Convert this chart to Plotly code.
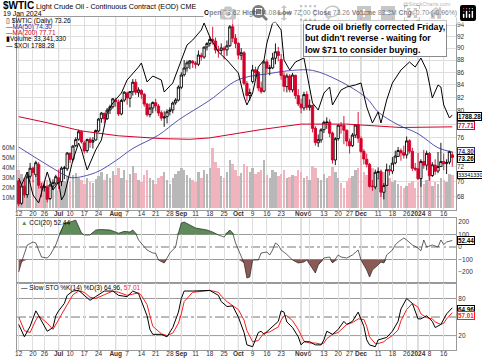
import numpy as np
import plotly.graph_objects as go

FONT = "Liberation Sans, Arial, sans-serif"
W, H = 482, 361

# ---------------- data (trading days Jun 12 2023 .. Jan 19 2024) ----------------
opens = [70.1,67.2,69.4,68.3,70.7, 71.8,70.9,72.3,69.4, 69.2,69.3,67.8,69.4,69.8,
 70.5,70.0,71.8,71.7, 73.8,73.0,74.9,75.8,76.9, 75.3,74.2,75.8,75.4,75.7, 77.0,78.8,79.6,78.8,80.1, 80.6,
 81.6,81.3,79.5,81.6, 82.7,81.9,82.9,84.4,82.8, 83.1,82.5,81.0,79.4,80.4, 81.2,80.7,79.7,78.9,79.1, 79.9,80.1,81.2,81.6,
 83.6, 85.6,86.7,87.5,87.8, 87.5,87.3,88.8,88.5,90.2, 90.8,91.5,91.2,89.7,89.6, 90.0,89.7,90.4,93.7,91.7,
 90.8,88.8,89.2,84.2,82.3, 84.5,86.4,86.0,83.5,83.0, 87.7,86.7,86.7,88.3,89.4, 88.1,85.5,83.7,85.4,83.2, 85.5,82.3,
 81.0,80.4,82.5, 80.5,80.8,77.4,75.3,75.7, 77.2,78.3,78.3,76.7,72.9, 75.9,77.8,77.8,77.1, 75.5,74.9,76.4,77.9,
 75.9, 74.1,73.0,72.3,69.4,69.3, 71.2,71.3,68.6,69.5,71.6, 71.4,72.5,73.4,74.2,73.9, 73.6,75.6,74.1,71.8,
 71.7,70.4,72.7,72.2, 73.8,70.8,72.2,71.4,72.0, 72.7,72.4,72.6,73.62]
highs = [70.2,69.6,70.3,71.0,72.5, 72.0,72.8,72.6,69.8, 70.0,69.5,69.6,70.3,70.9,
 71.6,72.0,72.1,74.0, 74.0,75.0,76.1,77.2,77.1, 75.6,75.9,76.1,76.1,77.2, 78.9,79.8,79.7,80.4,80.9, 81.9,
 82.0,81.7,81.8,83.0, 82.9,83.0,84.9,84.9,83.6, 83.3,82.7,81.2,81.1,81.4, 81.8,81.0,80.0,79.9,80.2, 80.5,81.4,81.9,83.9,
 86.0, 88.0,87.9,88.0,88.0, 87.8,89.6,89.2,90.3,91.0, 92.0,93.7,91.8,90.4,90.8, 90.3,91.3,94.0,95.0,92.4,
 91.0,90.0,89.5,84.6,83.4, 87.2,86.9,86.2,84.5,88.0, 88.1,87.2,89.2,90.8,90.2, 89.0,86.0,85.8,85.7,85.9, 85.6,83.3,
 81.8,82.9,83.0, 81.7,80.9,77.7,76.5,77.4, 78.5,79.0,78.7,76.9,76.1, 78.0,78.3,79.2,77.2, 75.9,76.7,78.0,79.8,
 76.2, 74.4,73.8,72.5,70.2,71.6, 71.9,71.6,69.8,72.4,72.2, 73.3,74.2,74.7,74.5,74.9, 76.2,75.8,74.6,72.5,
 73.9,73.0,74.3,74.2, 74.0,72.6,73.0,74.0,75.3, 73.8,73.0,74.2,74.08]
lows = [66.8,67.0,67.9,67.9,70.4, 69.9,70.6,69.1,68.0, 68.7,67.3,67.6,68.9,69.5,
 69.0,69.4,70.3,71.4, 72.5,72.7,74.7,75.6,75.2, 73.8,73.9,74.6,74.5,75.6, 76.8,78.2,78.1,78.6,79.5, 80.3,
 80.6,79.2,79.3,81.3, 80.9,80.5,82.3,82.4,82.1, 81.8,80.6,79.1,79.0,79.6, 79.9,79.2,78.5,77.6,78.1, 79.3,79.6,80.9,81.4,
 83.3, 85.3,86.1,86.5,86.7, 86.6,87.0,87.9,88.2,89.6, 90.3,90.6,89.1,88.4,89.0, 88.1,88.7,90.2,91.0,90.0,
 88.1,88.0,83.9,81.5,81.5, 84.2,85.1,83.0,82.6,82.8, 85.9,85.5,86.5,87.3,87.8, 84.8,82.9,82.8,82.8,82.8, 81.8,80.7,
 79.6,80.0,80.1, 80.0,76.8,74.9,74.7,75.3, 76.7,77.3,76.1,72.4,72.2, 75.6,76.6,75.1,74.8, 73.8,74.7,76.0,75.3,
 73.8, 72.3,71.9,69.2,68.8,69.0, 70.3,68.0,67.7,69.4,70.8, 71.0,72.3,73.3,72.8,73.1, 73.1,73.8,71.4,71.4,
 70.2,69.3,71.7,71.5, 70.1,70.6,70.9,71.1,72.0, 71.5,71.0,72.3,72.00]
closes = [67.12,69.42,68.27,70.62,71.78, 71.19,72.53,69.51,69.16, 69.37,67.70,69.56,69.86,70.64,
 69.79,71.79,71.80,73.86, 72.99,74.83,75.75,76.89,75.42, 74.15,75.75,75.35,75.63,77.07, 78.74,79.63,78.78,80.09,80.58, 81.80,
 81.37,79.49,81.55,82.82, 81.94,82.92,84.40,82.82,83.19, 82.51,80.99,79.38,80.39,81.25, 80.72,79.64,78.89,79.05,79.83, 80.10,81.16,81.63,83.63,
 85.55, 86.69,87.54,87.87,87.51, 87.29,88.84,88.52,90.16,90.77, 91.48,91.20,89.66,89.63,90.03, 89.68,90.39,93.68,91.71,90.79,
 88.82,89.23,84.22,82.31,82.79, 86.38,85.97,83.49,82.91,87.69, 86.66,86.66,88.32,89.37,88.75, 85.49,83.74,85.39,83.21,85.54, 82.31,81.02,
 80.44,82.46,80.51, 80.82,77.37,75.33,75.74,77.17, 78.26,78.26,76.66,72.90,75.89, 77.83,77.77,77.10,75.54, 74.86,76.41,77.86,75.96,
 74.07, 73.04,72.32,69.38,69.34,71.23, 71.32,68.61,69.47,71.58,71.43, 72.47,73.44,74.22,73.89,73.56, 75.57,74.11,71.77,71.65,
 70.38,72.70,72.19,73.81, 70.77,72.24,71.37,72.02,72.68, 72.40,72.56,74.08,73.26]
volume_m = [38,34,30,36,33,28,32,30,26,22,28,30,24,22,
 18,30,27,32,26,33,35,30,28,24,30,26,25,29,32,36,28,34,30,37,
 33,40,30,38,28,34,42,35,28,26,33,38,30,28,24,30,32,36,28,24,30,34,37,
 40,38,33,30,28,26,36,30,38,34,40,60,46,40,32,30,36,48,44,38,
 32,35,44,42,36,40,34,36,38,48,33,30,38,36,32,34,38,30,31,33,32,38,
 36,30,32,28,42,40,30,28,34,30,32,41,36,30,25,20,27,30,32,38,40,
 53,36,33,42,40,34,30,38,36,32,30,26,28,24,22,20,22,25,27,20,
 26,30,24,28,32,22,26,24,30,28,26,34,33.34]

ma50_idx = [0, 11, 17, 19, 27, 34, 40, 49, 56, 67, 77, 88, 96, 103, 112, 122, 126, 133, 140, 147, 152]
ma50 = [74.7, 72.0, 70.7, 70.5, 71.2, 72.8, 74.5, 76.4, 78.6, 81.6, 84.8, 85.8, 86.3, 86.3, 84.7, 81.9, 79.8, 77.9, 76.6, 74.6, 74.0]
ma200_idx = [0, 10, 22, 35, 50, 60, 67, 85, 99, 115, 134, 152]
ma200 = [79.1, 78.2, 77.0, 76.3, 75.9, 75.8, 76.0, 77.2, 78.0, 78.0, 77.5, 77.6]

xoi_idx = [0,1,3,5,7,10,12,14,15,16,19,21,22,24,27,29,31,33,36,38,42,43,45,47,50,51,54,57,59,61,64,65,67,70,73,
 77,79,80,82,84,86,87,89,90,92,93,95,97,100,101,103,105,107,109,110,113,115,118,120,122,124,126,127,129,131,
 134,137,139,141,143,145,147,148,149,151,152]
xoi = [1651.5,1636.4,1664.6,1614.7,1597.3,1664.6,1625.5,1642.9,1603.8,1614.7,1690.6,1727.5,1712.3,1668.9,1712.3,
 1734.0,1792.6,1814.3,1836.0,1864.2,1892.4,1901.1,1859.9,1872.9,1864.2,1838.2,1857.7,1907.6,1940.2,1951.0,1972.7,
 1987.9,1957.5,1925.0,1907.6,1879.4,1827.3,1810.0,1836.0,1892.4,1907.6,1944.5,1987.9,1990.1,1972.7,1907.6,1885.9,
 1903.3,1912.0,1879.4,1814.3,1799.1,1836.0,1849.0,1810.0,1842.5,1849.0,1853.4,1857.7,1805.6,1770.9,1794.8,1770.9,
 1820.8,1857.7,1885.9,1903.3,1892.4,1912.0,1885.9,1825.1,1853.4,1849.0,1810.0,1781.7,1788.28]

cci_idx = [0,1,3,5,6,7,8,10,11,12,13,14,16,18,20,22,23,25,27,29,32,34,35,37,39,40,41,42,44,45,47,48,49,51,52,53,54,55,
 56,57,58,60,62,66,68,70,72,74,75,76,77,79,80,81,82,84,85,87,88,89,90,91,92,94,96,98,100,101,104,105,107,109,110,
 112,113,115,117,119,120,122,123,124,126,127,128,129,131,132,133,135,136,138,140,141,142,143,145,147,148,149,150,152]
cci = [-200,-120,16,40,32,-24,-80,-88,-64,-24,16,80,192,200,215,112,96,96,136,140,136,120,110,125,120,136,110,56,0,
 -24,-48,-50,-104,-128,-88,-48,-24,0,112,192,200,176,152,136,120,96,80,136,112,32,-24,-128,-248,-240,-104,-104,-48,
 -40,-64,-24,32,16,-24,-60,-104,-128,-120,-104,-208,-144,-88,-80,-128,-64,-80,-88,-64,-24,-104,-184,-240,-184,-144,
 -120,-128,-64,-24,16,40,72,56,16,-8,-30,56,0,16,0,56,20,40,52.44]

sto_idx = [0,1,2,4,6,7,10,12,13,14,16,17,19,21,23,25,27,30,33,35,38,40,42,43,45,46,47,50,52,54,56,57,58,61,64,67,
 70,71,73,75,77,79,80,82,84,85,86,88,91,92,93,94,96,98,99,100,102,104,106,107,108,110,112,114,115,117,119,121,
 122,123,125,126,128,129,131,133,134,136,138,140,141,143,145,146,148,149,150,152]
sto_k = [38,27,18,35,60,52,27,33,52,60,72,85,92,93,85,77,83,92,92,85,83,92,88,75,52,30,22,22,18,33,58,80,92,92,92,93,
 85,75,67,68,50,25,5,2,25,27,22,30,43,60,58,42,33,18,5,10,10,5,5,13,27,22,30,43,38,43,58,35,13,5,2,13,15,17,27,43,
 63,80,72,47,47,52,43,33,38,47,55,64.96]
sto_d = [50,38,28,25,45,52,40,30,38,48,62,72,86,92,90,82,80,86,92,90,85,87,89,85,70,52,35,23,20,24,40,55,75,90,92,93,
 90,84,75,68,62,45,28,10,12,18,24,26,34,45,52,52,44,30,19,11,8,8,6,8,15,22,25,33,38,41,47,46,35,18,7,7,10,14,20,29,
 44,62,72,66,55,49,47,42,38,40,47,57.01]

tick_idx = [0,5,9,14,18,23,28,34,38,43,48,53,57,62,67,72,77,82,87,92,99,102,107,112,116,120,126,131,136,140,144,149]
tick_text = ["12","20","26","Jul","10","17","24","Aug","7","14","21","28","Sep","11","18","25","Oct","9","16","23",
             "Nov","6","13","20","27","Dec","11","18","26","2024","8","16"]
month_labels = {"Jul","Aug","Sep","Oct","Nov","Dec","2024"}

price_ticks = [68,70,72,74,76,78,80,82,84,86,88,90,92,94]
price_labels = ["68","70","72","","76","","80","82","84","86","88","90","92","94"]
vol_ticks = [10,20,30,40,50,60]
sto_ticks = [20,50,80]
sto_labels = ["20","","80"]

# ---------------- geometry ----------------
def pyp(pix):
    return 1 - pix / H

XD = [17 / W, 456 / W]
main_dom = [pyp(210), pyp(17)]
cci_dom = [pyp(283), pyp(218)]
sto_dom = [pyp(350), pyp(283)]
XR = [-0.6, 153.3]

n = len(closes)
days = np.arange(n)
c = np.array(closes); o = np.array(opens); hi = np.array(highs); lo = np.array(lows)
prev = np.concatenate([[o[0]], c[:-1]])
up = c >= prev

fig = go.Figure()

fig.add_trace(go.Bar(x=days, y=volume_m, width=0.86,
                     marker=dict(color=['#b8b8b8' if u else '#f1b3bd' for u in up], line_width=0),
                     xaxis='x', yaxis='y', hoverinfo='skip'))

for grp, col, hollow in [(up, 'black', 'white'), (~up, '#d4002a', '#ffffff')]:
    s = np.where(grp)[0]
    fig.add_trace(go.Candlestick(
        x=s, open=o[s], high=hi[s], low=lo[s], close=c[s], xaxis='x', yaxis='y2',
        increasing=dict(line=dict(color=col, width=0.9), fillcolor=hollow),
        decreasing=dict(line=dict(color=col, width=0.9), fillcolor=col),
        whiskerwidth=0, hoverinfo='skip'))

fig.add_trace(go.Scatter(x=ma200_idx, y=ma200, mode='lines', line=dict(color='#d4002a', width=1.0),
                         xaxis='x', yaxis='y2', hoverinfo='skip'))
fig.add_trace(go.Scatter(x=ma50_idx, y=ma50, mode='lines', line=dict(color='#2a2aa0', width=0.8, shape='spline'),
                         xaxis='x', yaxis='y2', hoverinfo='skip'))
fig.add_trace(go.Scatter(x=xoi_idx, y=xoi, mode='lines', line=dict(color='black', width=1.0),
                         xaxis='x', yaxis='y3', hoverinfo='skip'))

cci_a = np.array(cci, dtype=float)
for level, fn, fc in [(100, np.maximum, '#5f8b5a'), (-100, np.minimum, '#8c5a55')]:
    fig.add_trace(go.Scatter(x=cci_idx, y=[level] * len(cci_idx), mode='lines', line=dict(width=0),
                             xaxis='x2', yaxis='y4', hoverinfo='skip'))
    fig.add_trace(go.Scatter(x=cci_idx, y=fn(cci_a, level), mode='lines', line=dict(width=0),
                             fill='tonexty', fillcolor=fc, xaxis='x2', yaxis='y4', hoverinfo='skip'))
fig.add_trace(go.Scatter(x=cci_idx, y=cci, mode='lines', line=dict(color='#222', width=0.7),
                         xaxis='x2', yaxis='y4', hoverinfo='skip'))

fig.add_trace(go.Scatter(x=sto_idx, y=sto_d, mode='lines', line=dict(color='#ff1a1a', width=1.0),
                         xaxis='x3', yaxis='y5', hoverinfo='skip'))
fig.add_trace(go.Scatter(x=sto_idx, y=sto_k, mode='lines', line=dict(color='black', width=1.0),
                         xaxis='x3', yaxis='y5', hoverinfo='skip'))

ticktext = [f"<b>{t}</b>" if t in month_labels else t for t in tick_text]
tickfont = dict(family=FONT, size=6.5, color='#333')
xcommon = dict(domain=XD, range=XR, tickvals=tick_idx, showgrid=True, gridcolor='#dedede', gridwidth=1,
               zeroline=False, showline=True, linecolor='#9a9a9a', mirror=True, ticks='', tickfont=tickfont,
               automargin=False, tickangle=0, ticklabelstandoff=-3)
ycommon = dict(zeroline=False, ticks='', tickfont=tickfont, automargin=False)

lo10 = np.log10(66.35); hi10 = np.log10(95.43)
fig.update_layout(
    template='none',
    width=W, height=H, autosize=False, margin=dict(l=0, r=0, t=0, b=0, pad=0),
    paper_bgcolor='white', plot_bgcolor='white', showlegend=False,
    font=dict(family=FONT),
    boxgap=0.2, boxgroupgap=0, bargap=0,
    xaxis=dict(anchor='y', ticktext=ticktext, rangeslider=dict(visible=False), **xcommon),
    xaxis2=dict(anchor='y4', showticklabels=False, matches='x', **xcommon),
    xaxis3=dict(anchor='y5', ticktext=ticktext, matches='x', **xcommon),
    yaxis=dict(domain=main_dom, range=[-2, 191], side='left', tickvals=vol_ticks,
               ticktext=[f"{v}M" for v in vol_ticks], showgrid=False,
               showline=True, linecolor='#9a9a9a', mirror=True, **ycommon),
    yaxis2=dict(overlaying='y', side='right', anchor='x', type='log', range=[lo10, hi10],
                tickvals=price_ticks, ticktext=price_labels, showgrid=True,
                gridcolor='#dedede', showline=False, **ycommon),
    yaxis3=dict(overlaying='y', range=[1582, 2001], visible=False),
    yaxis4=dict(domain=cci_dom, anchor='x2', side='right', range=[-288, 232], tickvals=[-200, -100, 0, 100, 200],
                showgrid=False, showline=True, linecolor='#9a9a9a', mirror=True, **ycommon),
    yaxis5=dict(domain=sto_dom, anchor='x3', side='right', range=[-3.3, 105], tickvals=sto_ticks,
                ticktext=sto_labels, showgrid=False, showline=True, linecolor='#9a9a9a', mirror=True, **ycommon),
)

shapes = []
for lvl, dash, col in [(100, 'solid', '#9a9a9a'), (-100, 'solid', '#9a9a9a'), (0, 'dashdot', '#777')]:
    shapes.append(dict(type='line', xref='x2 domain', yref='y4', x0=0, x1=1, y0=lvl, y1=lvl,
                       line=dict(color=col, width=1, dash=dash), layer='below'))
for lvl, dash, col in [(80, 'solid', '#9a9a9a'), (20, 'solid', '#9a9a9a'), (50, 'dashdot', '#777')]:
    shapes.append(dict(type='line', xref='x3 domain', yref='y5', x0=0, x1=1, y0=lvl, y1=lvl,
                       line=dict(color=col, width=1, dash=dash), layer='below'))
for ti, tt in zip(tick_idx, tick_text):
    if tt in month_labels:
        for yr in ['y domain', 'y4 domain', 'y5 domain']:
            shapes.append(dict(type='line', xref='x', yref=yr, x0=ti, x1=ti, y0=0, y1=1,
                               line=dict(color='#b4b4b4', width=1), layer='below'))
fig.update_layout(shapes=shapes)

def txt(x, y, text, size=6.5, color='black', xanchor='left', **kw):
    fig.add_annotation(xref='paper', yref='paper', x=x / W, y=1 - y / H, text=text, showarrow=False,
                       xanchor=xanchor, yanchor='middle', font=dict(family=FONT, size=size, color=color), **kw)

txt(1, 6, '<b><span style="font-size:10px">$WTIC</span></b> Light Crude Oil - Continuous Contract (EOD) CME', size=7.2)
txt(1, 13.5, '19 Jan 2024', size=7)
txt(453, 4, '@StockCharts.com', size=5.5, color='#666', xanchor='right')
txt(467, 12.5, '<b>Open</b> 73.62 <b>High</b> 74.08 <b>Low</b> 72.00 <b>Close</b> 73.26 <b>Volume</b> 83.3M '
               '<b>Chg</b> -0.70 (-0.96%) <span style="color:#d4002a">▼</span>', size=6.8, xanchor='right',
    bgcolor='white', borderpad=0)

txt(4, 21, '▯ $WTIC (Daily) 73.26', size=6.5)
txt(4, 27, '<span style="color:#2a2aa0">—MA(50) 74.30</span>', size=6.5)
txt(4, 33, '<span style="color:#d4002a">—MA(200) 77.71</span>', size=6.5)
txt(4, 39, '▮Volume 33,341,330', size=6.5)
txt(4, 45, '— $XOI 1788.28', size=6.5)

fig.add_annotation(xref='paper', yref='paper', x=303 / W, y=1 - 20 / H, xanchor='left', yanchor='top',
                   text="<b>Crude oil briefly corrected Friday,<br>but didn't reverse - waiting for<br>low $71 to consider buying.</b>",
                   showarrow=False, align='left', bgcolor='white', bordercolor='#8a8a8a', borderwidth=1,
                   borderpad=1, font=dict(family=FONT, size=8.8, color='black'))

def vbox(y, text, col, tcol=None, bold=True, size=6.3):
    t = f"<b>{text}</b>" if bold else text
    fig.add_annotation(xref='paper', yref='paper', x=457 / W, y=1 - y / H, xanchor='left', yanchor='middle',
                       text=t, showarrow=False, bgcolor='white', bordercolor=col, borderwidth=1, borderpad=0,
                       font=dict(family=FONT, size=size, color=tcol or col))

vbox(116, '1788.28', 'black')
vbox(125, '77.71', '#d4002a')
vbox(151, '74.30', '#2a2aa0')
vbox(158, '73.26', 'black')
vbox(175, '33341330', 'black', bold=False, size=5.5)
vbox(240, '52.44', 'black')
vbox(309, '64.96', 'black')
vbox(315, '57.01', '#ff1a1a')

txt(19, 223, '<span style="color:#5f8b5a">▲</span> CCI(20) 52.44', size=6.5)
txt(19, 288, '— Slow STO %K(14) %D(3) 64.96, <span style="color:#ff1a1a">57.01</span>', size=6.5)

fig.write_html("out.html", post_script="document.body.style.margin='0px';document.body.style.overflow='hidden';")
